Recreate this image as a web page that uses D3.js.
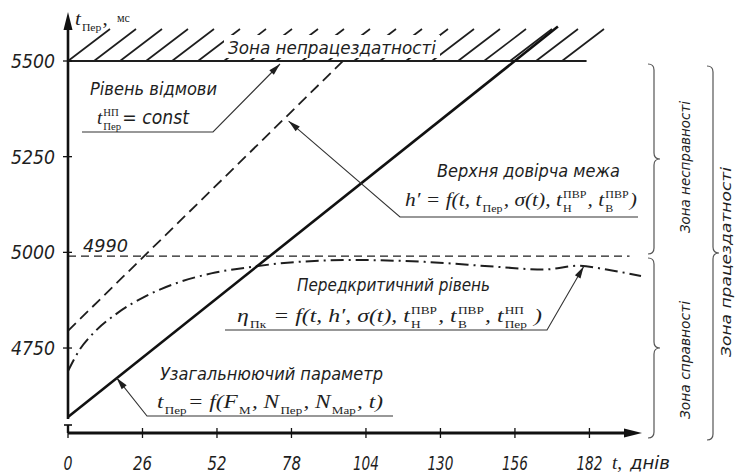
<!DOCTYPE html>
<html><head><meta charset="utf-8">
<script src="https://cdn.jsdelivr.net/npm/d3@7"></script>
<style>body{margin:0;background:#fff}svg{display:block}</style>
</head><body>
<svg id="c" width="737" height="473"></svg>
<script>
// ---------- data ----------
const xTickDays = [0, 26, 52, 78, 104, 130, 156, 182];
const yTickValues = [4750, 5000, 5250, 5500];
const yTickLabels = ["4750", "5000", "5250", "5500"];
const failureLevel = 5500;
const thresholdLevel = 4990;
const thresholdLabel = "4990";
const generalDays = [0, 171];
const generalValues = [4570, 5590];
const upperDays = [0, 96];
const upperValues = [4795, 5500];
const preDays = [0, 4, 9, 17, 27, 38, 50, 64, 80, 100, 125, 150, 166, 178, 188, 200];
const preValues = [4690, 4745, 4790, 4840, 4885, 4920, 4945, 4962, 4975, 4980, 4975, 4962, 4955, 4965, 4955, 4938];
const zoneNames = ["Зона непрацездатності", "Зона несправності", "Зона справності", "Зона працездатності"];

// ---------- setup ----------
const svg = d3.select("#c");
const ISO = "'Liberation Sans Narrow','DejaVu Sans Condensed','DejaVu Sans',sans-serif";
const SERIF = "'Liberation Serif','DejaVu Serif',serif";
const INK = "#1e1e1e";
const X0 = 68, AXIS_Y = 433;
const x = d3.scaleLinear().domain([0, 200]).range([X0, 641]);
const y = d3.scaleLinear().domain([4500, 5500]).range([443.7, 61]);

function isoText(txt, xx, yy, w, size, anchor, rot) {
  const t = svg.append("text").attr("x", xx).attr("y", yy).text(txt)
    .attr("font-family", ISO).attr("font-style", "italic").attr("font-size", size || 17)
    .attr("fill", INK).attr("text-anchor", anchor || "start");
  if (w) t.attr("textLength", w).attr("lengthAdjust", "spacingAndGlyphs");
  if (rot) t.attr("transform", `rotate(-90 ${xx} ${yy})`);
  return t;
}

function formula(items, x0, base, width, size) {
  const g = svg.append("g");
  let cx = 0;
  items.forEach(it => {
    if (it.t !== undefined) {
      const tx = g.append("text").attr("x", cx).attr("y", 0).text(it.t)
        .attr("font-family", it.iso ? ISO : SERIF)
        .attr("font-style", it.up ? "normal" : "italic")
        .attr("font-size", it.s || size).attr("fill", INK)
        .style("white-space", "pre");
      cx += tx.node().getComputedTextLength() + (it.gap || 0);
    } else {
      let w = 0;
      const ss = size * 0.56;
      if (it.sup) {
        const s = g.append("text").attr("x", cx + 1).attr("y", -size * 0.42).text(it.sup)
          .attr("font-family", SERIF).attr("font-size", ss).attr("fill", INK);
        w = Math.max(w, s.node().getComputedTextLength());
      }
      if (it.sub) {
        const s = g.append("text").attr("x", cx + 1).attr("y", size * 0.3).text(it.sub)
          .attr("font-family", SERIF).attr("font-size", ss).attr("fill", INK);
        w = Math.max(w, s.node().getComputedTextLength());
      }
      cx += w + 2;
    }
  });
  g.attr("transform", `translate(${x0},${base}) scale(${width / cx},1)`);
}

function arrowHead(x1, y1, x2, y2, len, half) {
  const a = Math.atan2(y2 - y1, x2 - x1);
  const bx = x2 - len * Math.cos(a), by = y2 - len * Math.sin(a);
  const px = -Math.sin(a) * half, py = Math.cos(a) * half;
  svg.append("path").attr("d", `M${x2},${y2}L${bx + px},${by + py}L${bx - px},${by - py}Z`).attr("fill", INK);
}

function leader(pts) {
  svg.append("path").attr("d", d3.line()(pts)).attr("fill", "none").attr("stroke", "#333").attr("stroke-width", 1.1);
  const n = pts.length;
  arrowHead(pts[n - 2][0], pts[n - 2][1], pts[n - 1][0], pts[n - 1][1], 12, 3.2);
}

function brace(xb, y1, y2, w) {
  const ym = (y1 + y2) / 2, r = 6;
  const d = `M${xb},${y1} Q${xb + w},${y1} ${xb + w},${y1 + r} L${xb + w},${ym - r} Q${xb + w},${ym} ${xb + 2 * w},${ym} ` +
    `Q${xb + w},${ym} ${xb + w},${ym + r} L${xb + w},${y2 - r} Q${xb + w},${y2} ${xb},${y2}`;
  svg.append("path").attr("d", d).attr("fill", "none").attr("stroke", "#555").attr("stroke-width", 1.2);
}

// ---------- hatch zone ----------
const baseY = y(failureLevel);
const hatchEnd = x(181);
const hg = svg.append("g");
for (let bx = X0; bx <= hatchEnd + 0.5; bx += 26) {
  hg.append("line").attr("x1", bx).attr("y1", baseY).attr("x2", bx + 42).attr("y2", baseY - 32)
    .attr("stroke", INK).attr("stroke-width", 1.6);
}
svg.append("rect").attr("x", 224).attr("y", 35).attr("width", 216).attr("height", 23).attr("fill", "#fff");
isoText(zoneNames[0], 228, 54, 208, 17);
svg.append("line").attr("x1", X0).attr("x2", hatchEnd).attr("y1", baseY).attr("y2", baseY)
  .attr("stroke", INK).attr("stroke-width", 2);

// ---------- threshold line ----------
svg.append("line").attr("x1", x(0)).attr("x2", x(196)).attr("y1", y(thresholdLevel)).attr("y2", y(thresholdLevel))
  .attr("stroke", INK).attr("stroke-width", 1.2).attr("stroke-dasharray", "8,5");
isoText(thresholdLabel, 83, y(thresholdLevel) - 4, 45, 17);

// ---------- series ----------
const line = d3.line().x(d => x(d[0])).y(d => y(d[1]));
svg.append("path").datum(d3.zip(upperDays, upperValues)).attr("d", line)
  .attr("fill", "none").attr("stroke", INK).attr("stroke-width", 1.8).attr("stroke-dasharray", "11,6");
svg.append("path").datum(d3.zip(preDays, preValues)).attr("d", line.curve(d3.curveMonotoneX))
  .attr("fill", "none").attr("stroke", INK).attr("stroke-width", 2).attr("stroke-dasharray", "13,5,2,5");
line.curve(d3.curveLinear);
svg.append("path").datum(d3.zip(generalDays, generalValues)).attr("d", line)
  .attr("fill", "none").attr("stroke", "#111").attr("stroke-width", 2.6);

// ---------- axes ----------
svg.append("line").attr("x1", X0).attr("x2", X0).attr("y1", 24).attr("y2", 419).attr("stroke", "#111").attr("stroke-width", 2.6);
svg.append("path").attr("d", `M${X0},12L${X0 - 4.5},30L${X0 + 4.5},30Z`).attr("fill", "#111");
svg.append("line").attr("x1", X0).attr("x2", X0).attr("y1", 425).attr("y2", AXIS_Y).attr("stroke", "#111").attr("stroke-width", 2.4);
svg.append("line").attr("x1", X0 - 4).attr("x2", X0 + 4).attr("y1", 425).attr("y2", 425).attr("stroke", "#111").attr("stroke-width", 1.6);
svg.append("line").attr("x1", X0).attr("x2", 630).attr("y1", AXIS_Y).attr("y2", AXIS_Y).attr("stroke", "#111").attr("stroke-width", 3);
svg.append("path").attr("d", `M642,${AXIS_Y}L624,${AXIS_Y - 4.5}L624,${AXIS_Y + 4.5}Z`).attr("fill", "#111");

yTickValues.forEach((v, i) => {
  svg.append("line").attr("x1", X0 - 5).attr("x2", X0 + 4).attr("y1", y(v)).attr("y2", y(v)).attr("stroke", "#111").attr("stroke-width", 1.3);
  isoText(yTickLabels[i], 55, y(v) + 7, 44, 19, "end");
});
xTickDays.forEach(d => {
  svg.append("line").attr("x1", x(d)).attr("x2", x(d)).attr("y1", AXIS_Y - 5).attr("y2", AXIS_Y + 5).attr("stroke", "#111").attr("stroke-width", 1.3);
  const w = String(d).length === 1 ? 9 : String(d).length === 2 ? 19 : 26;
  isoText(String(d), x(d), 470, w, 19, "middle");
});
// axis titles
formula([{ t: "t" }, { sub: "Пер" }, { t: ", ", up: true }], 75, 25, 38, 19);
svg.append("text").attr("x", 117).attr("y", 22).text("мс").attr("font-family", SERIF).attr("font-size", 12).attr("fill", INK);
svg.append("text").attr("x", 612).attr("y", 469).text("t,").attr("font-family", SERIF).attr("font-style", "italic").attr("font-size", 19).attr("fill", INK);
isoText("днів", 630, 469, 40, 17);

// ---------- annotations ----------
isoText("Рівень відмови", 90, 95, 127, 18);
formula([{ t: "t" }, { sup: "НП", sub: "Пер" }, { t: "= const", iso: true }], 97, 124, 92, 19);
leader([[82, 132], [213, 132], [280, 64]]);

isoText("Верхня довірча межа", 437, 177, 183, 18);
formula([{ t: "h′ = " }, { t: "f" }, { t: "(t, " }, { t: "t" }, { sub: "Пер" }, { t: ", σ(t), " },
  { t: "t" }, { sup: "ПВР", sub: "Н" }, { t: ", " }, { t: "t" }, { sup: "ПВР", sub: "В" }, { t: ")" }], 405, 206, 232, 19);
leader([[638, 217], [400, 217], [x(77), y(5343)]]);

isoText("Передкритичний рівень", 297, 291, 193, 18);
formula([{ t: "η" }, { sub: "Пк" }, { t: " = " }, { t: "f" }, { t: "(t, h′, σ(t), " }, { t: "t" }, { sup: "ПВР", sub: "Н" },
  { t: ", " }, { t: "t" }, { sup: "ПВР", sub: "В" }, { t: ", " }, { t: "t" }, { sup: "НП", sub: "Пер" }, { t: " )" }], 237, 322, 305, 19);
leader([[225, 330], [547, 330], [x(180), y(4963)]]);

isoText("Узагальнюючий параметр", 160, 380, 223, 18);
formula([{ t: "t" }, { sub: "Пер" }, { t: "= " }, { t: "f" }, { t: "(F" }, { sub: "М" }, { t: ", N" }, { sub: "Пер" },
  { t: ", N" }, { sub: "Мар" }, { t: ", t)" }], 157, 408, 226, 19);
leader([[393, 416], [147, 416], [x(17), y(4672)]]);

// ---------- braces & zone labels ----------
brace(648, 64, 254, 6);
brace(648, 258, 438, 6);
brace(707, 66, 440, 6);
isoText(zoneNames[1], 690, 167, 132, 14, "middle", true);
isoText(zoneNames[2], 690, 360, 118, 14, "middle", true);
isoText(zoneNames[3], 731, 262, 190, 14, "middle", true);
</script>
</body></html>
